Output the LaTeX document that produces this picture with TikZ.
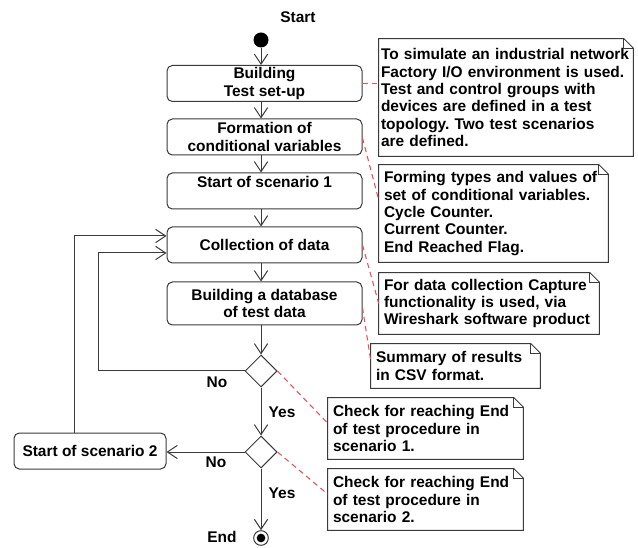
\documentclass[tikz,border=0pt]{standalone}
\usepackage{fontspec}
\setmainfont{Liberation Sans}
\usetikzlibrary{shapes.geometric,arrows.meta}
\frenchspacing

\definecolor{linegray}{HTML}{3A3A3A}
\definecolor{linkred}{HTML}{E8505B}

\tikzstyle{every node}=[font=\fontsize{11.6}{13}\selectfont\bfseries]
\tikzstyle{activity}=[draw=linegray, line width=0.75pt, rounded corners=4pt, align=center, minimum width=146.25pt, minimum height=27pt, inner sep=1pt]
\tikzstyle{decision}=[draw=linegray, line width=0.75pt, diamond, minimum size=24pt, inner sep=0pt]
\tikzstyle{note}=[align=left, inner xsep=3.75pt, inner ysep=1pt]
\tikzstyle{noteline}=[draw=linegray, line width=0.75pt]
\tikzstyle{arrow}=[draw=linegray, line width=0.75pt, -{Straight Barb[length=7.5pt,width=10pt]}]
\tikzstyle{link}=[draw=linkred, line width=0.8pt, dash pattern=on 4pt off 3pt]

% note frame with folded corner
\newcommand{\notefold}[1]{%
  \draw[noteline] (#1.north west) -- ([xshift=-7pt]#1.north east) -- ([yshift=-7pt]#1.north east) -- (#1.south east) -- (#1.south west) -- cycle;
  \draw[noteline] ([xshift=-7pt]#1.north east) |- ([yshift=-7pt]#1.north east);}

\begin{document}
\begin{tikzpicture}[x=0.75pt, y=-0.75pt]
      \useasboundingbox (0,0) rectangle (638,548);

      % flow
      \node (startlabel) at (298,17) {Start};
      \node[circle, fill=black, minimum size=11.25pt, inner sep=0pt] (start) at (261,40) {};
      \node[activity] (b1) at (264.5,83.5) {Building\\Test set-up};
      \node[activity] (b2) at (264.5,137) {Formation of\\conditional variables};
      \node[activity] (b3) at (264.5,191) {Start of scenario 1\\\mbox{}};
      \node[activity] (b4) at (264.5,245) {Collection of data};
      \node[activity, minimum height=32.25pt] (b5) at (264.5,303.5) {Building a database\\of test data};
      \node[decision] (d1) at (261,371) {};
      \node[decision] (d2) at (261,452) {};
      \node[activity, minimum width=114pt] (b6) at (90,451) {Start of scenario 2};
      \node[circle, draw=linegray, line width=0.75pt, minimum size=11pt, inner sep=0pt] (end) at (261,538) {};
      \node[circle, fill=black, minimum size=6.5pt, inner sep=0pt] (endin) at (261,538) {};
      \node (endlabel) at (222,537) {End};

      \node (no1) at (217,382) {No};
      \node[anchor=west] (yes1) at (264,412) {Yes};
      \node (no2) at (216,462) {No};
      \node[anchor=west] (yes2) at (264,493) {Yes};

      % notes
      \node[note, inner xsep=1.5pt, text width=187.5pt, minimum height=87.75pt] (n1) at (506,97.5) {To simulate an industrial network\\Factory I/O environment is used.\\Test and control groups with\\devices are defined in a test\\topology. Two test scenarios\\are defined.};
      \node[note, text width=164.25pt, minimum height=72.75pt] (n2) at (493.5,213.5) {Forming types and values of\\set of conditional variables.\\Cycle Counter.\\Current Counter.\\End Reached Flag.};
      \node[note, text width=157.5pt, minimum height=45.75pt] (n3) at (489,303.5) {For data collection Capture\\functionality is used, via\\Wireshark software product};
      \node[note, text width=119.25pt, minimum height=33pt] (n4) at (455.5,366) {Summary of results\\in CSV format.};
      \node[note, text width=138.75pt, minimum height=45.75pt] (n5) at (425.5,428.5) {Check for reaching End\\of test procedure in\\scenario 1.};
      \node[note, text width=138.75pt, minimum height=45.75pt] (n6) at (425.5,499.5) {Check for reaching End\\of test procedure in\\scenario 2.};
      \notefold{n1}
      \notefold{n2}
      \notefold{n3}
      \notefold{n4}
      \notefold{n5}
      \notefold{n6}

      \draw[arrow] (start) to (b1.north -| start);
      \draw[arrow] (b1.south -| start) to (b2.north -| start);
      \draw[arrow] (b2.south -| start) to (b3.north -| start);
      \draw[arrow] (b3.south -| start) to (b4.north -| start);
      \draw[arrow] (b4.south -| start) to (b5.north -| start);
      \draw[arrow] (b5.south -| start) to (d1.north);
      \draw[arrow] (d1.south) to (d2.north);
      \draw[arrow] (d2.south) to (end.north);
      \draw[arrow] (d2.west) to (d2.west -| b6.east);
      \draw[arrow] (d1.west) -- ++(-146,0) |- ([yshift=-6pt]b4.west);
      \draw[arrow] ([xshift=-12pt]b6.north) |- ([yshift=6.75pt]b4.west);

      \draw[link] (b1.east) to (b1.east -| n1.west);
      \draw[link] ([yshift=-0.75pt]b2.east) to ([yshift=10pt]n2.west);
      \draw[link] (b4.east) to (n3.west);
      \draw[link] ([yshift=-3pt]b5.east) to ([yshift=4pt]n4.west);
      \draw[link] (d1.east) to ([yshift=4pt]n5.west);
      \draw[link] (d2.east) to ([yshift=4pt]n6.west);
    \end{tikzpicture}
\end{document}
